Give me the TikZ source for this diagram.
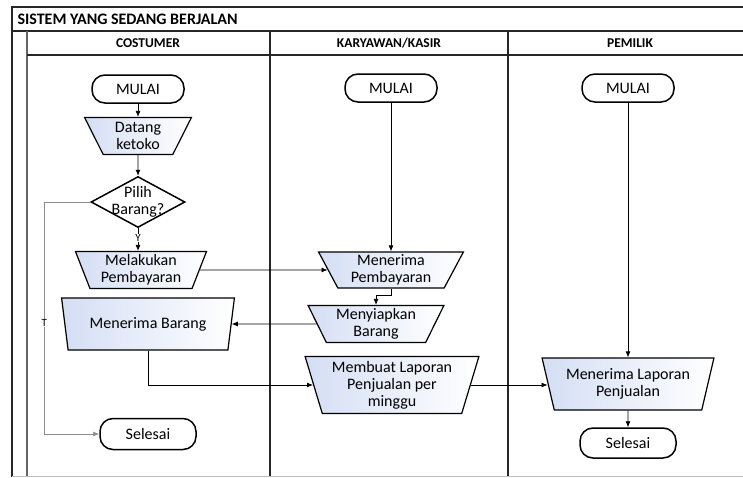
\documentclass[tikz,border=0pt]{standalone}
\usepackage{fontspec}
\setmainfont{Carlito}
\usetikzlibrary{shapes.geometric,arrows.meta}
\definecolor{biru}{RGB}{212,222,244}

\begin{document}
\begin{tikzpicture}[x=1pt,y=-1pt,
    garis/.style={line width=1.6pt,draw=black!85},
    terminal/.style={draw,line width=1.5pt,rounded corners=13pt,minimum width=92pt,minimum height=28pt,inner sep=0pt,font=\fontsize{16}{17}\selectfont},
    proses/.style={trapezium,shape border rotate=180,trapezium stretches=true,draw,line width=1.2pt,inner sep=0.5pt,align=center,left color=biru,right color=white,font=\fontsize{16}{17}\selectfont},
    keputusan/.style={diamond,draw,line width=1.5pt,minimum width=94pt,minimum height=51pt,inner sep=0pt},
    panah/.style={-{Latex[length=6pt,width=5pt]},line width=0.8pt},
    kecil/.style={fill=white,text=black,inner sep=0.5pt,font=\fontsize{11}{12}\selectfont},
    judul/.style={font=\fontsize{13.5}{15}\selectfont\bfseries}]
    \useasboundingbox (0,0) rectangle (743,477);
    \draw[garis] (12,477) -- (12,7) -- (743,7);
    \draw[garis] (12,31) -- (743,31);
    \draw[garis,draw=black!60] (27,31) -- (27,477);
    \draw[garis] (27,55) -- (743,55);
    \draw[garis] (270,31) -- (270,477);
    \draw[garis] (508,31) -- (508,477);
    \draw[black!25] (12,476) -- (743,476);
    \node[anchor=west,font=\fontsize{16}{18}\selectfont\bfseries] (sistem) at (14,19) {SISTEM YANG SEDANG BERJALAN};
    \node[judul] (kol1) at (148,43) {COSTUMER};
    \node[judul] (kol2) at (389,43) {KARYAWAN/KASIR};
    \node[judul] (kol3) at (630,43) {PEMILIK};

    \node[terminal] (mulai1) at (138,89) {MULAI};
    \node[proses,trapezium angle=66,minimum width=107pt,minimum height=37pt] (datang) at (138,136) {Datang\\ketoko};
    \node[keputusan,label={[align=center,font=\fontsize{16}{17}\selectfont]center:Pilih\\Barang?}] (pilih) at (138,202) {};
    \node[proses,trapezium angle=70,minimum width=131pt,minimum height=37pt] (bayar) at (141,270) {Melakukan\\Pembayaran};
    \node[proses,trapezium angle=72,minimum width=173pt,minimum height=52pt] (barang) at (148,324) {Menerima Barang};
    \node[terminal,minimum width=96pt,minimum height=31pt] (selesai1) at (148,434) {Selesai};

    \node[terminal] (mulai2) at (391,88) {MULAI};
    \node[proses,trapezium angle=65,minimum width=145pt,minimum height=36pt] (terima) at (391,270) {Menerima\\Pembayaran};
    \node[proses,trapezium angle=65,minimum width=136pt,minimum height=37pt] (siap) at (376,324) {Menyiapkan\\Barang};
    \node[proses,trapezium angle=73,minimum width=174pt,minimum height=57pt] (laporan) at (392,385) {Membuat Laporan\\Penjualan per\\minggu};

    \node[terminal] (mulai3) at (628,88) {MULAI};
    \node[proses,trapezium angle=72,minimum width=172pt,minimum height=52pt] (terimalap) at (628,384) {Menerima Laporan\\Penjualan};
    \node[terminal,minimum width=96pt,minimum height=30pt] (selesai3) at (628,443) {Selesai};

    \draw[panah] (mulai1) -- (datang);
    \draw[panah] (datang) -- (pilih);
    \draw[panah] (pilih.south) -- node[kecil,pos=0.45]{Y} (pilih.south |- bayar.north);
    \draw[panah,draw=black!45] (pilih.west) -- ++(-46,0) |- node[kecil,pos=0.26]{T} (selesai1.west);
    \draw[panah] (bayar.east) -- (terima.west);
    \draw[panah] (siap.west) -- (barang.east);
    \draw[panah] (barang.south) |- (laporan.west);
    \draw[panah] (laporan.east) -- (laporan.east -| terimalap.west);
    \draw[panah] (mulai2) -- (terima);
    \draw[panah] (terima.south) -- ++(0,7) -| (siap.north);
    \draw[panah] (mulai3) -- (terimalap);
    \draw[panah] (terimalap) -- (selesai3);
\end{tikzpicture}
\end{document}
